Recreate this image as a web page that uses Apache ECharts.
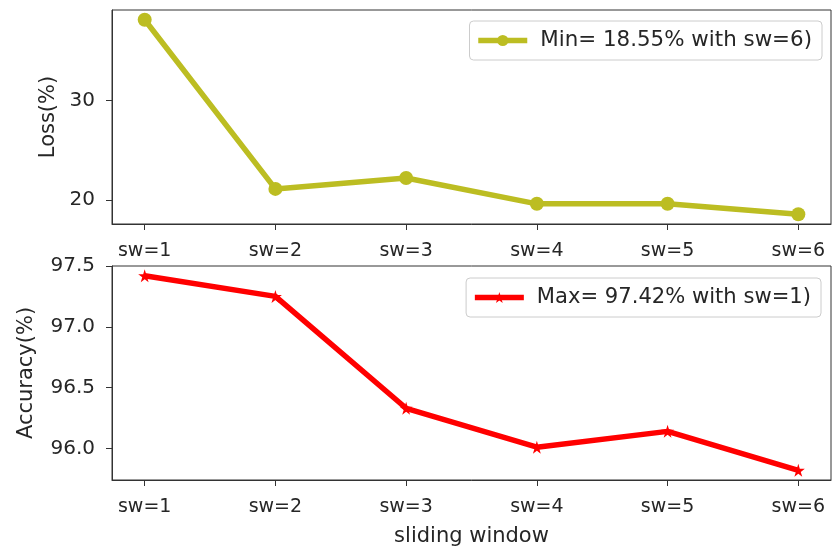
<!DOCTYPE html>
<html>
<head>
<meta charset="utf-8">
<script src="https://cdn.jsdelivr.net/npm/echarts@6/dist/echarts.min.js"></script>
<style>
  html, body { margin: 0; padding: 0; background: #fff; }
  #chart { width: 832px; height: 551px; }
</style>
</head>
<body>
<div id="chart"></div>
<script>
// Sliding-window sizes on the shared x axis
const windows = ['sw=1', 'sw=2', 'sw=3', 'sw=4', 'sw=5', 'sw=6'];
// Loss (%) per sliding window
const lossValues = [38.1, 21.1, 22.2, 19.6, 19.6, 18.55];
// Accuracy (%) per sliding window
const accuracyValues = [97.42, 97.25, 96.33, 96.01, 96.14, 95.82];
// Tick labels on each y axis
const lossTicks = [20, 30];
const accuracyTicks = [96.0, 96.5, 97.0, 97.5];
// Legend entries
const lossLegend = 'Min= 18.55% with sw=6)';
const accuracyLegend = 'Max= 97.42% with sw=1)';

const FONT = 'DejaVu Sans';
const TEXT = '#262626';
const SPINE = '#333333';
const tickIdx = windows.map((_, i) => i);

// y-range padded by 5% of the data span on each side
function padded(vals) {
  const lo = Math.min(...vals), hi = Math.max(...vals), m = (hi - lo) * 0.05;
  return [lo - m, hi + m];
}
const lossRange = padded(lossValues);
const accRange = padded(accuracyValues);

const star = 'path://M50,0 L61,35 L98,35 L68,57 L79,91 L50,70 L21,91 L32,57 L2,35 L39,35 Z';

function xAxisFor(gridIndex, withName) {
  const ax = {
    type: 'value', gridIndex,
    min: -0.25, max: windows.length - 0.75,
    axisLine: { show: true, onZero: false, lineStyle: { color: SPINE, width: 1 } },
    axisTick: { show: true, length: 6, customValues: tickIdx, lineStyle: { color: SPINE } },
    axisLabel: {
      customValues: tickIdx, margin: 18,
      formatter: v => windows[Math.round(v)],
      fontFamily: FONT, fontSize: 19, color: TEXT
    },
    splitLine: { show: false }
  };
  if (withName) {
    Object.assign(ax, {
      name: 'sliding window', nameLocation: 'middle', nameGap: 46,
      nameTextStyle: { fontFamily: FONT, fontSize: 21, color: TEXT }
    });
  }
  return ax;
}

function yAxisFor(gridIndex, range, ticks, name, gap, digits) {
  return {
    type: 'value', gridIndex,
    min: range[0], max: range[1],
    name, nameLocation: 'middle', nameGap: gap,
    nameTextStyle: { fontFamily: FONT, fontSize: 21, color: TEXT },
    axisLine: { show: true, onZero: false, lineStyle: { color: SPINE, width: 1 } },
    axisTick: { show: true, length: 6, customValues: ticks, lineStyle: { color: SPINE } },
    axisLabel: {
      customValues: ticks, margin: 17,
      formatter: v => Number(v).toFixed(digits),
      fontFamily: FONT, fontSize: 20, color: TEXT
    },
    splitLine: { show: false }
  };
}

function legendFor(name, top, right, size) {
  return {
    data: [name], top, right,
    orient: 'horizontal',
    itemWidth: 49, itemHeight: 14,
    padding: [9, 10, 9, 6],
    borderColor: '#cccccc', borderWidth: 1, borderRadius: 4,
    backgroundColor: 'rgba(255,255,255,0.8)',
    lineStyle: { width: 5.5 },
    textStyle: { fontFamily: FONT, fontSize: size, color: TEXT, padding: [0, 0, 0, 8] }
  };
}

const chart = echarts.init(document.getElementById('chart'), null, { renderer: 'canvas' });
chart.setOption({
  animation: false,
  backgroundColor: '#ffffff',
  grid: [
    { left: 112, right: 1, top: 10, height: 214, show: true, borderColor: SPINE, borderWidth: 1, backgroundColor: 'transparent' },
    { left: 112, right: 1, top: 266, height: 214, show: true, borderColor: SPINE, borderWidth: 1, backgroundColor: 'transparent' }
  ],
  xAxis: [xAxisFor(0, false), xAxisFor(1, true)],
  yAxis: [
    yAxisFor(0, lossRange, lossTicks, 'Loss(%)', 53, 0),
    yAxisFor(1, accRange, accuracyTicks, 'Accuracy(%)', 75, 1)
  ],
  legend: [legendFor(lossLegend, 21, 10, 21.4), legendFor(accuracyLegend, 278, 11, 21.1)],
  series: [
    {
      name: lossLegend, type: 'line', xAxisIndex: 0, yAxisIndex: 0,
      data: lossValues.map((v, i) => [i, v]),
      symbol: 'circle', symbolSize: 14,
      lineStyle: { color: '#bcbd22', width: 5.5 },
      itemStyle: { color: '#bcbd22' }
    },
    {
      name: accuracyLegend, type: 'line', xAxisIndex: 1, yAxisIndex: 1,
      data: accuracyValues.map((v, i) => [i, v]),
      symbol: star, symbolSize: 13,
      lineStyle: { color: '#ff0000', width: 5.5 },
      itemStyle: { color: '#ff0000' }
    }
  ]
});
</script>
</body>
</html>
